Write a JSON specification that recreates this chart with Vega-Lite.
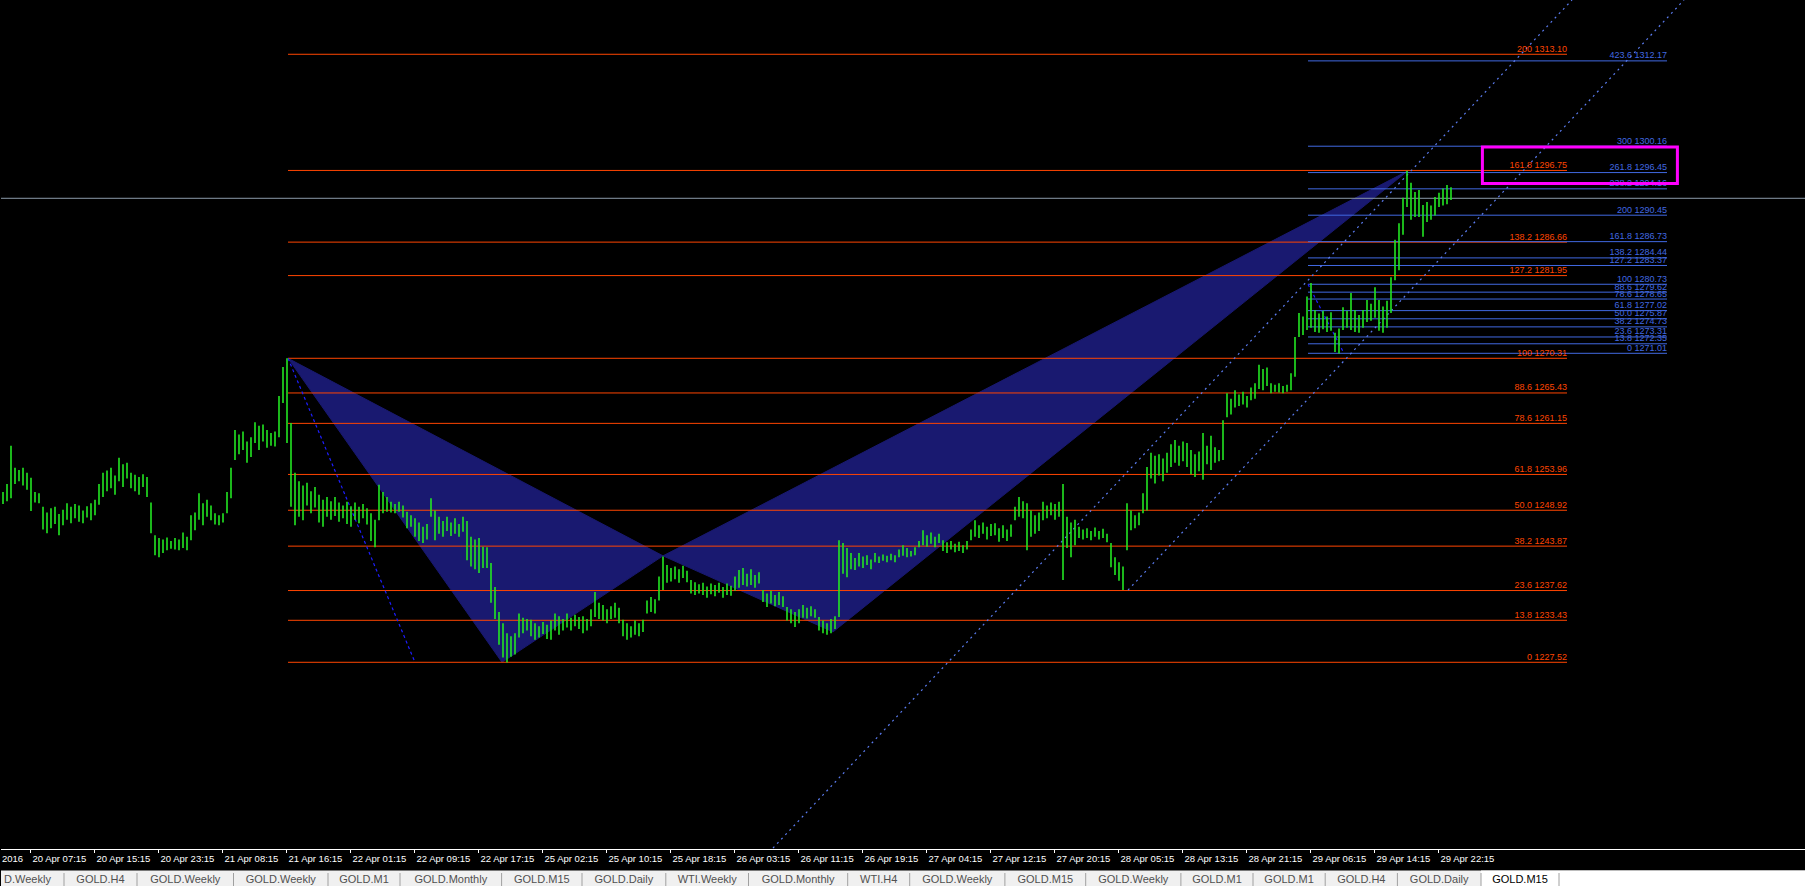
{
"$schema": "https://vega.github.io/schema/vega-lite/v6.json",
"background": "#000000",
"padding": 0,
"spacing": 0,
"bounds": "flush",
"config": {"view": {"stroke": null}, "axis": {"disable": true}, "concat": {"spacing": 0}},
"datasets": {
"bars": [
{"b":1,"h":1251.5,"l":1249.8},{"b":3,"h":1252.6,"l":1250.2},{"b":5,"h":1258.0,"l":1250.6},{"b":7,"h":1254.9,"l":1252.6},{"b":9,"h":1254.6,"l":1253.0},{"b":11,"h":1254.9,"l":1252.4},{"b":13,"h":1254.2,"l":1251.8},{"b":15,"h":1253.5,"l":1248.8},{"b":17,"h":1251.5,"l":1250.0},{"b":19,"h":1251.3,"l":1249.9},
{"b":21,"h":1249.4,"l":1246.2},{"b":23,"h":1248.6,"l":1245.7},{"b":25,"h":1249.2,"l":1246.4},{"b":27,"h":1249.4,"l":1247.0},{"b":29,"h":1248.4,"l":1245.4},{"b":31,"h":1249.0,"l":1246.8},{"b":33,"h":1249.9,"l":1247.6},{"b":35,"h":1249.4,"l":1247.1},{"b":37,"h":1249.8,"l":1247.8},{"b":39,"h":1249.6,"l":1247.3},
{"b":41,"h":1248.9,"l":1247.1},{"b":43,"h":1249.5,"l":1247.9},{"b":45,"h":1249.9,"l":1247.5},{"b":47,"h":1250.4,"l":1248.2},{"b":49,"h":1252.6,"l":1249.7},{"b":51,"h":1254.2,"l":1250.8},{"b":53,"h":1254.5,"l":1251.6},{"b":55,"h":1254.9,"l":1252.0},{"b":57,"h":1253.8,"l":1251.1},{"b":59,"h":1256.3,"l":1253.0},
{"b":61,"h":1255.4,"l":1252.2},{"b":63,"h":1255.6,"l":1253.4},{"b":65,"h":1254.2,"l":1252.0},{"b":67,"h":1253.9,"l":1251.6},{"b":69,"h":1253.6,"l":1251.1},{"b":71,"h":1254.0,"l":1252.2},{"b":73,"h":1253.6,"l":1250.8},{"b":75,"h":1250.0,"l":1245.7},{"b":77,"h":1245.4,"l":1242.6},{"b":79,"h":1245.0,"l":1242.3},
{"b":81,"h":1244.8,"l":1242.9},{"b":83,"h":1245.1,"l":1243.3},{"b":85,"h":1244.6,"l":1243.5},{"b":87,"h":1245.0,"l":1243.4},{"b":89,"h":1244.8,"l":1243.3},{"b":91,"h":1245.8,"l":1243.6},{"b":93,"h":1245.2,"l":1243.3},{"b":95,"h":1248.2,"l":1244.7},{"b":97,"h":1248.6,"l":1246.1},{"b":99,"h":1251.3,"l":1247.6},
{"b":101,"h":1249.9,"l":1246.8},{"b":103,"h":1250.4,"l":1248.0},{"b":105,"h":1249.6,"l":1247.5},{"b":107,"h":1248.5,"l":1246.9},{"b":109,"h":1248.2,"l":1246.8},{"b":111,"h":1248.5,"l":1247.2},{"b":113,"h":1251.5,"l":1248.5},{"b":115,"h":1254.9,"l":1250.6},{"b":117,"h":1260.2,"l":1256.0},{"b":119,"h":1259.6,"l":1256.8},
{"b":121,"h":1260.0,"l":1257.4},{"b":123,"h":1258.6,"l":1255.6},{"b":125,"h":1259.2,"l":1256.4},{"b":127,"h":1261.3,"l":1258.4},{"b":129,"h":1260.8,"l":1257.4},{"b":131,"h":1261.0,"l":1258.6},{"b":133,"h":1260.2,"l":1257.7},{"b":135,"h":1259.8,"l":1258.0},{"b":137,"h":1260.0,"l":1257.9},{"b":139,"h":1265.0,"l":1259.2},
{"b":141,"h":1269.1,"l":1264.0},{"b":143,"h":1270.3,"l":1258.4},{"b":145,"h":1261.2,"l":1249.4},{"b":147,"h":1254.2,"l":1246.8},{"b":149,"h":1253.0,"l":1248.0},{"b":151,"h":1252.4,"l":1247.5},{"b":153,"h":1252.8,"l":1249.6},{"b":155,"h":1251.6,"l":1248.5},{"b":157,"h":1252.2,"l":1249.3},{"b":159,"h":1251.1,"l":1247.2},
{"b":161,"h":1250.4,"l":1246.6},{"b":163,"h":1250.8,"l":1248.0},{"b":165,"h":1250.2,"l":1247.6},{"b":167,"h":1250.8,"l":1248.1},{"b":169,"h":1250.0,"l":1247.3},{"b":171,"h":1249.6,"l":1247.8},{"b":173,"h":1250.1,"l":1247.0},{"b":175,"h":1249.5,"l":1246.6},{"b":177,"h":1250.0,"l":1247.6},{"b":179,"h":1249.4,"l":1247.1},
{"b":181,"h":1249.8,"l":1247.8},{"b":183,"h":1249.2,"l":1246.9},{"b":185,"h":1248.5,"l":1244.6},{"b":187,"h":1247.6,"l":1243.7},{"b":189,"h":1252.5,"l":1247.5},{"b":191,"h":1251.5,"l":1248.5},{"b":193,"h":1250.8,"l":1248.7},{"b":195,"h":1250.1,"l":1248.6},{"b":197,"h":1249.8,"l":1248.5},{"b":199,"h":1250.1,"l":1248.7},
{"b":201,"h":1249.6,"l":1247.9},{"b":203,"h":1248.7,"l":1246.4},{"b":205,"h":1248.2,"l":1246.6},{"b":207,"h":1247.8,"l":1245.2},{"b":209,"h":1247.2,"l":1244.6},{"b":211,"h":1246.6,"l":1244.3},{"b":213,"h":1247.0,"l":1244.8},{"b":215,"h":1250.6,"l":1248.0},{"b":217,"h":1248.9,"l":1244.7},{"b":219,"h":1248.0,"l":1245.6},
{"b":221,"h":1247.4,"l":1245.2},{"b":223,"h":1248.0,"l":1246.0},{"b":225,"h":1247.2,"l":1245.3},{"b":227,"h":1247.8,"l":1245.6},{"b":229,"h":1247.0,"l":1245.2},{"b":231,"h":1248.0,"l":1245.9},{"b":233,"h":1247.4,"l":1241.9},{"b":235,"h":1245.2,"l":1241.0},{"b":237,"h":1244.8,"l":1240.6},{"b":239,"h":1245.0,"l":1240.1},
{"b":241,"h":1243.8,"l":1240.8},{"b":243,"h":1243.7,"l":1240.8},{"b":245,"h":1241.5,"l":1235.9},{"b":247,"h":1238.1,"l":1233.6},{"b":249,"h":1234.6,"l":1230.0},{"b":251,"h":1233.0,"l":1228.2},{"b":253,"h":1231.6,"l":1227.5},{"b":255,"h":1231.2,"l":1228.3},{"b":257,"h":1231.6,"l":1228.6},{"b":259,"h":1234.4,"l":1231.0},
{"b":261,"h":1233.8,"l":1231.6},{"b":263,"h":1233.6,"l":1232.0},{"b":265,"h":1233.5,"l":1231.2},{"b":267,"h":1233.0,"l":1230.7},{"b":269,"h":1232.6,"l":1231.0},{"b":271,"h":1233.2,"l":1231.5},{"b":273,"h":1232.8,"l":1230.8},{"b":275,"h":1233.4,"l":1230.7},{"b":277,"h":1234.4,"l":1232.0},{"b":279,"h":1234.0,"l":1231.4},
{"b":281,"h":1233.6,"l":1232.0},{"b":283,"h":1234.4,"l":1232.4},{"b":285,"h":1233.8,"l":1232.0},{"b":287,"h":1234.2,"l":1232.6},{"b":289,"h":1233.9,"l":1232.2},{"b":291,"h":1234.0,"l":1231.6},{"b":293,"h":1233.6,"l":1232.0},{"b":295,"h":1235.0,"l":1232.6},{"b":297,"h":1237.4,"l":1233.9},{"b":299,"h":1235.9,"l":1233.6},
{"b":301,"h":1235.6,"l":1233.4},{"b":303,"h":1235.0,"l":1233.0},{"b":305,"h":1235.4,"l":1233.6},{"b":307,"h":1235.9,"l":1233.8},{"b":309,"h":1235.2,"l":1233.0},{"b":311,"h":1233.5,"l":1231.2},{"b":313,"h":1233.0,"l":1230.7},{"b":315,"h":1232.6,"l":1231.0},{"b":317,"h":1233.4,"l":1231.4},{"b":319,"h":1233.0,"l":1231.2},
{"b":321,"h":1233.5,"l":1231.8},{"b":323,"h":1236.2,"l":1234.4},{"b":325,"h":1236.7,"l":1234.6},{"b":327,"h":1236.4,"l":1234.4},{"b":329,"h":1239.6,"l":1236.2},{"b":331,"h":1242.4,"l":1237.7},{"b":333,"h":1241.2,"l":1238.7},{"b":335,"h":1240.8,"l":1238.9},{"b":337,"h":1241.0,"l":1239.2},{"b":339,"h":1240.6,"l":1238.7},
{"b":341,"h":1241.1,"l":1239.4},{"b":343,"h":1240.4,"l":1238.8},{"b":345,"h":1239.1,"l":1237.2},{"b":347,"h":1238.8,"l":1237.0},{"b":349,"h":1238.5,"l":1237.2},{"b":351,"h":1238.7,"l":1237.0},{"b":353,"h":1238.2,"l":1236.6},{"b":355,"h":1238.6,"l":1237.1},{"b":357,"h":1238.4,"l":1236.8},{"b":359,"h":1238.7,"l":1237.3},
{"b":361,"h":1238.1,"l":1236.6},{"b":363,"h":1238.6,"l":1237.0},{"b":365,"h":1238.3,"l":1236.9},{"b":367,"h":1239.6,"l":1237.6},{"b":369,"h":1240.5,"l":1238.0},{"b":371,"h":1240.8,"l":1238.4},{"b":373,"h":1240.0,"l":1238.2},{"b":375,"h":1240.6,"l":1238.4},{"b":377,"h":1239.8,"l":1238.0},{"b":379,"h":1240.2,"l":1238.6},
{"b":381,"h":1237.7,"l":1236.0},{"b":383,"h":1237.2,"l":1235.3},{"b":385,"h":1237.6,"l":1235.8},{"b":387,"h":1237.0,"l":1235.4},{"b":389,"h":1237.4,"l":1235.6},{"b":391,"h":1236.8,"l":1235.3},{"b":393,"h":1235.3,"l":1233.4},{"b":395,"h":1235.0,"l":1233.0},{"b":397,"h":1234.6,"l":1232.5},{"b":399,"h":1235.0,"l":1233.0},
{"b":401,"h":1235.6,"l":1233.8},{"b":403,"h":1235.2,"l":1233.7},{"b":405,"h":1235.4,"l":1234.0},{"b":407,"h":1235.0,"l":1233.8},{"b":409,"h":1233.9,"l":1232.0},{"b":411,"h":1233.4,"l":1231.6},{"b":413,"h":1233.0,"l":1231.4},{"b":415,"h":1233.6,"l":1231.6},{"b":417,"h":1234.0,"l":1232.2},{"b":419,"h":1244.7,"l":1233.9},
{"b":421,"h":1244.3,"l":1240.0},{"b":423,"h":1243.6,"l":1239.5},{"b":425,"h":1242.9,"l":1240.6},{"b":427,"h":1242.2,"l":1240.5},{"b":429,"h":1242.9,"l":1241.0},{"b":431,"h":1242.4,"l":1240.8},{"b":433,"h":1242.6,"l":1241.2},{"b":435,"h":1242.0,"l":1240.6},{"b":437,"h":1242.9,"l":1241.6},{"b":439,"h":1242.4,"l":1241.5},
{"b":441,"h":1242.7,"l":1241.8},{"b":443,"h":1242.5,"l":1241.6},{"b":445,"h":1242.8,"l":1241.9},{"b":447,"h":1242.6,"l":1241.6},{"b":449,"h":1243.4,"l":1242.3},{"b":451,"h":1244.0,"l":1242.5},{"b":453,"h":1243.6,"l":1242.3},{"b":455,"h":1243.2,"l":1242.4},{"b":457,"h":1243.7,"l":1242.6},{"b":459,"h":1244.6,"l":1243.7},
{"b":461,"h":1246.1,"l":1244.0},{"b":463,"h":1245.4,"l":1243.8},{"b":465,"h":1245.8,"l":1244.2},{"b":467,"h":1245.2,"l":1243.7},{"b":469,"h":1245.6,"l":1244.3},{"b":471,"h":1244.7,"l":1243.2},{"b":473,"h":1244.4,"l":1242.9},{"b":475,"h":1244.6,"l":1243.4},{"b":477,"h":1244.2,"l":1243.0},{"b":479,"h":1244.5,"l":1243.2},
{"b":481,"h":1244.0,"l":1242.9},{"b":483,"h":1244.6,"l":1243.4},{"b":485,"h":1246.2,"l":1244.7},{"b":487,"h":1247.5,"l":1245.2},{"b":489,"h":1246.8,"l":1245.0},{"b":491,"h":1247.2,"l":1245.6},{"b":493,"h":1246.6,"l":1244.8},{"b":495,"h":1247.0,"l":1245.3},{"b":497,"h":1247.1,"l":1245.4},{"b":499,"h":1246.4,"l":1244.5},
{"b":501,"h":1246.8,"l":1245.0},{"b":503,"h":1246.2,"l":1244.6},{"b":505,"h":1246.9,"l":1245.2},{"b":507,"h":1249.4,"l":1247.5},{"b":509,"h":1250.8,"l":1248.0},{"b":511,"h":1250.2,"l":1247.8},{"b":513,"h":1249.9,"l":1243.3},{"b":515,"h":1248.9,"l":1245.2},{"b":517,"h":1248.2,"l":1245.6},{"b":519,"h":1248.6,"l":1246.0},
{"b":521,"h":1250.1,"l":1247.5},{"b":523,"h":1249.6,"l":1247.8},{"b":525,"h":1250.0,"l":1248.2},{"b":527,"h":1249.8,"l":1247.6},{"b":529,"h":1250.1,"l":1248.0},{"b":531,"h":1252.6,"l":1239.1},{"b":533,"h":1248.0,"l":1243.6},{"b":535,"h":1247.2,"l":1242.3},{"b":537,"h":1247.6,"l":1244.0},{"b":539,"h":1246.6,"l":1245.0},
{"b":541,"h":1246.2,"l":1244.8},{"b":543,"h":1246.4,"l":1245.0},{"b":545,"h":1246.0,"l":1244.7},{"b":547,"h":1246.5,"l":1245.2},{"b":549,"h":1246.0,"l":1244.8},{"b":551,"h":1246.3,"l":1245.0},{"b":553,"h":1245.6,"l":1244.4},{"b":555,"h":1244.3,"l":1240.9},{"b":557,"h":1242.3,"l":1239.8},{"b":559,"h":1241.6,"l":1239.0},
{"b":561,"h":1241.0,"l":1237.7},{"b":563,"h":1249.9,"l":1243.3},{"b":565,"h":1248.9,"l":1246.1},{"b":567,"h":1248.2,"l":1246.4},{"b":569,"h":1248.6,"l":1246.8},{"b":571,"h":1251.3,"l":1248.5},{"b":573,"h":1255.0,"l":1248.9},{"b":575,"h":1257.0,"l":1253.4},{"b":577,"h":1256.6,"l":1252.7},{"b":579,"h":1256.8,"l":1253.8},
{"b":581,"h":1256.2,"l":1253.0},{"b":583,"h":1257.0,"l":1254.2},{"b":585,"h":1258.2,"l":1255.0},{"b":587,"h":1258.8,"l":1255.6},{"b":589,"h":1258.0,"l":1255.2},{"b":591,"h":1258.6,"l":1255.8},{"b":593,"h":1258.4,"l":1255.0},{"b":595,"h":1257.4,"l":1254.0},{"b":597,"h":1256.8,"l":1253.6},{"b":599,"h":1257.2,"l":1254.4},
{"b":601,"h":1259.8,"l":1253.2},{"b":603,"h":1258.0,"l":1255.4},{"b":605,"h":1259.4,"l":1254.6},{"b":607,"h":1257.8,"l":1255.6},{"b":609,"h":1257.4,"l":1255.8},{"b":611,"h":1261.6,"l":1256.0},{"b":613,"h":1265.4,"l":1262.0},{"b":615,"h":1264.6,"l":1262.4},{"b":617,"h":1265.8,"l":1263.4},{"b":619,"h":1265.2,"l":1263.6},
{"b":621,"h":1265.6,"l":1263.8},{"b":623,"h":1265.0,"l":1263.4},{"b":625,"h":1266.2,"l":1264.4},{"b":627,"h":1266.8,"l":1264.6},{"b":629,"h":1269.4,"l":1266.0},{"b":631,"h":1268.8,"l":1265.8},{"b":633,"h":1269.0,"l":1266.4},{"b":635,"h":1266.8,"l":1265.4},{"b":637,"h":1266.6,"l":1265.6},{"b":639,"h":1266.8,"l":1265.5},
{"b":641,"h":1266.4,"l":1265.4},{"b":643,"h":1266.6,"l":1265.6},{"b":645,"h":1268.2,"l":1265.8},{"b":647,"h":1273.3,"l":1267.7},{"b":649,"h":1276.7,"l":1273.3},{"b":651,"h":1276.2,"l":1273.6},{"b":653,"h":1279.0,"l":1274.3},{"b":655,"h":1280.9,"l":1274.6},{"b":657,"h":1277.1,"l":1274.0},{"b":659,"h":1276.6,"l":1273.9},
{"b":661,"h":1277.0,"l":1274.4},{"b":663,"h":1276.2,"l":1274.0},{"b":665,"h":1276.8,"l":1274.2},{"b":667,"h":1273.9,"l":1271.2},{"b":669,"h":1274.5,"l":1271.0},{"b":671,"h":1277.5,"l":1274.3},{"b":673,"h":1277.0,"l":1274.6},{"b":675,"h":1279.5,"l":1274.3},{"b":677,"h":1277.1,"l":1274.0},{"b":679,"h":1276.4,"l":1273.9},
{"b":681,"h":1277.1,"l":1274.6},{"b":683,"h":1278.5,"l":1275.4},{"b":685,"h":1278.0,"l":1275.6},{"b":687,"h":1280.3,"l":1276.0},{"b":689,"h":1278.5,"l":1274.2},{"b":691,"h":1277.6,"l":1273.9},{"b":693,"h":1278.4,"l":1274.6},{"b":695,"h":1281.7,"l":1276.7},{"b":697,"h":1287.0,"l":1281.3},{"b":699,"h":1289.3,"l":1282.7},
{"b":701,"h":1292.9,"l":1287.7},{"b":703,"h":1296.7,"l":1291.6},{"b":705,"h":1295.0,"l":1289.8},{"b":707,"h":1293.7,"l":1290.2},{"b":709,"h":1294.0,"l":1290.2},{"b":711,"h":1291.9,"l":1287.4},{"b":713,"h":1292.3,"l":1289.5},{"b":715,"h":1291.8,"l":1289.8},{"b":717,"h":1293.0,"l":1290.4},{"b":719,"h":1293.6,"l":1291.6},
{"b":721,"h":1294.2,"l":1291.8},{"b":723,"h":1294.7,"l":1292.0},{"b":725,"h":1294.4,"l":1292.6}
],
"fibR": [
{"lv":"200 1313.10","p":1313.10,"b0":143.5,"b1":783},
{"lv":"161.8 1296.75","p":1296.75,"b0":143.5,"b1":783},
{"lv":"138.2 1286.66","p":1286.66,"b0":143.5,"b1":783},
{"lv":"127.2 1281.95","p":1281.95,"b0":143.5,"b1":783},
{"lv":"100 1270.31","p":1270.31,"b0":143.5,"b1":783},
{"lv":"88.6 1265.43","p":1265.43,"b0":143.5,"b1":783},
{"lv":"78.6 1261.15","p":1261.15,"b0":143.5,"b1":783},
{"lv":"61.8 1253.96","p":1253.96,"b0":143.5,"b1":783},
{"lv":"50.0 1248.92","p":1248.92,"b0":143.5,"b1":783},
{"lv":"38.2 1243.87","p":1243.87,"b0":143.5,"b1":783},
{"lv":"23.6 1237.62","p":1237.62,"b0":143.5,"b1":783},
{"lv":"13.8 1233.43","p":1233.43,"b0":143.5,"b1":783},
{"lv":"0 1227.52","p":1227.52,"b0":143.5,"b1":783}
],
"fibB": [
{"lv":"423.6 1312.17","p":1312.17,"b0":653.5,"b1":833},
{"lv":"300 1300.16","p":1300.16,"b0":653.5,"b1":833},
{"lv":"261.8 1296.45","p":1296.45,"b0":653.5,"b1":833},
{"lv":"238.2 1294.16","p":1294.16,"b0":653.5,"b1":833},
{"lv":"200 1290.45","p":1290.45,"b0":653.5,"b1":833},
{"lv":"161.8 1286.73","p":1286.73,"b0":653.5,"b1":833},
{"lv":"138.2 1284.44","p":1284.44,"b0":653.5,"b1":833},
{"lv":"127.2 1283.37","p":1283.37,"b0":653.5,"b1":833},
{"lv":"100 1280.73","p":1280.73,"b0":653.5,"b1":833},
{"lv":"88.6 1279.62","p":1279.62,"b0":653.5,"b1":833},
{"lv":"78.6 1278.65","p":1278.65,"b0":653.5,"b1":833},
{"lv":"61.8 1277.02","p":1277.02,"b0":653.5,"b1":833},
{"lv":"50.0 1275.87","p":1275.87,"b0":653.5,"b1":833},
{"lv":"38.2 1274.73","p":1274.73,"b0":653.5,"b1":833},
{"lv":"23.6 1273.31","p":1273.31,"b0":653.5,"b1":833},
{"lv":"13.8 1272.35","p":1272.35,"b0":653.5,"b1":833},
{"lv":"0 1271.01","p":1271.01,"b0":653.5,"b1":833}
],
"tri": [
{"t":1,"o":1,"b":143.5,"p":1270.31},{"t":1,"o":2,"b":250.5,"p":1227.52},{"t":1,"o":3,"b":331,"p":1242.5},
{"t":2,"o":1,"b":331,"p":1242.5},{"t":2,"o":2,"b":416,"p":1231.8},{"t":2,"o":3,"b":703.5,"p":1296.7}
],
"segs": [
{"k":"ch","b0":386,"p0":1201.38,"b1":785.5,"p1":1320.74},
{"k":"ch","b0":563.5,"p0":1237.69,"b1":841.5,"p1":1320.74},
{"k":"dk","b0":143.5,"p0":1270.31,"b1":207,"p1":1227.52},
{"k":"dk","b0":653.5,"p0":1280.73,"b1":671.5,"p1":1271.01}
],
"box": [{"b0":740.7,"b1":838.2,"p0":1294.91,"p1":1300.05}],
"bid": [{"p":1292.83}],
"ticks": [
{"b":14.75,"lab":"20 Apr 07:15"},{"b":46.75,"lab":"20 Apr 15:15"},{"b":78.75,"lab":"20 Apr 23:15"},{"b":110.75,"lab":"21 Apr 08:15"},{"b":142.75,"lab":"21 Apr 16:15"},{"b":174.75,"lab":"22 Apr 01:15"},{"b":206.75,"lab":"22 Apr 09:15"},{"b":238.75,"lab":"22 Apr 17:15"},{"b":270.75,"lab":"25 Apr 02:15"},{"b":302.75,"lab":"25 Apr 10:15"},{"b":334.75,"lab":"25 Apr 18:15"},{"b":366.75,"lab":"26 Apr 03:15"},{"b":398.75,"lab":"26 Apr 11:15"},{"b":430.75,"lab":"26 Apr 19:15"},{"b":462.75,"lab":"27 Apr 04:15"},{"b":494.75,"lab":"27 Apr 12:15"},{"b":526.75,"lab":"27 Apr 20:15"},{"b":558.75,"lab":"28 Apr 05:15"},{"b":590.75,"lab":"28 Apr 13:15"},{"b":622.75,"lab":"28 Apr 21:15"},{"b":654.75,"lab":"29 Apr 06:15"},{"b":686.75,"lab":"29 Apr 14:15"},{"b":718.75,"lab":"29 Apr 22:15"}
],
"edgeLab": [{"b":0,"lab":"2016"}],
"chrome": [
{"x0":0,"x1":1805,"kind":"bar"},
{"x0":1480,"x1":1558,"kind":"act"},
{"x0":1558,"x1":1805,"kind":"rest"}
],
"seps": [{"x":63},{"x":136},{"x":232.5},{"x":327},{"x":399},{"x":500.6},{"x":581},{"x":664.8},{"x":747.5},{"x":846.7},{"x":908.7},{"x":1003.9},{"x":1084.7},{"x":1179.9},{"x":1252},{"x":1324.2},{"x":1396.4},{"x":1480},{"x":1558}],
"tabs": [
{"c":26.5,"n":"D.Weekly","a":"n"},{"c":99.5,"n":"GOLD.H4","a":"n"},{"c":184.3,"n":"GOLD.Weekly","a":"n"},{"c":279.8,"n":"GOLD.Weekly","a":"n"},{"c":363,"n":"GOLD.M1","a":"n"},{"c":449.8,"n":"GOLD.Monthly","a":"n"},{"c":540.8,"n":"GOLD.M15","a":"n"},{"c":622.9,"n":"GOLD.Daily","a":"n"},{"c":706.2,"n":"WTI.Weekly","a":"n"},{"c":797.1,"n":"GOLD.Monthly","a":"n"},{"c":877.7,"n":"WTI.H4","a":"n"},{"c":956.3,"n":"GOLD.Weekly","a":"n"},{"c":1044.3,"n":"GOLD.M15","a":"n"},{"c":1132.3,"n":"GOLD.Weekly","a":"n"},{"c":1216,"n":"GOLD.M1","a":"n"},{"c":1288.1,"n":"GOLD.M1","a":"n"},{"c":1360.3,"n":"GOLD.H4","a":"n"},{"c":1438.2,"n":"GOLD.Daily","a":"n"},{"c":1519,"n":"GOLD.M15","a":"y"}
]
},
"vconcat": [
{
"width": 1805, "height": 849,
"layer": [
{"data":{"name":"tri"},"mark":{"type":"line","interpolate":"linear-closed","fill":"#191970","stroke":"#191970","strokeWidth":1,"clip":true},
 "encoding":{"x":{"field":"b","type":"quantitative","scale":{"domain":[0,902.5],"nice":false,"zero":false}},"y":{"field":"p","type":"quantitative","scale":{"domain":[1201.24,1320.74],"nice":false,"zero":false}},"detail":{"field":"t"},"order":{"field":"o","type":"quantitative"}}},
{"data":{"name":"bid"},"mark":{"type":"rule","color":"#8C9BAA","strokeWidth":1},
 "encoding":{"y":{"field":"p","type":"quantitative","scale":{"domain":[1201.24,1320.74],"nice":false,"zero":false}}}},
{"data":{"name":"fibR"},"mark":{"type":"rule","color":"#FF4500","strokeWidth":1},
 "encoding":{"x":{"field":"b0","type":"quantitative","scale":{"domain":[0,902.5],"nice":false,"zero":false}},"x2":{"field":"b1"},"y":{"field":"p","type":"quantitative","scale":{"domain":[1201.24,1320.74],"nice":false,"zero":false}}}},
{"data":{"name":"fibB"},"mark":{"type":"rule","color":"#4169E1","strokeWidth":1},
 "encoding":{"x":{"field":"b0","type":"quantitative","scale":{"domain":[0,902.5],"nice":false,"zero":false}},"x2":{"field":"b1"},"y":{"field":"p","type":"quantitative","scale":{"domain":[1201.24,1320.74],"nice":false,"zero":false}}}},
{"data":{"name":"segs"},"transform":[{"filter":"datum.k == 'ch'"}],"mark":{"type":"rule","color":"#5B7CF0","strokeWidth":1.2,"strokeDash":[2,4],"clip":true},
 "encoding":{"x":{"field":"b0","type":"quantitative","scale":{"domain":[0,902.5],"nice":false,"zero":false}},"x2":{"field":"b1"},"y":{"field":"p0","type":"quantitative","scale":{"domain":[1201.24,1320.74],"nice":false,"zero":false}},"y2":{"field":"p1"}}},
{"data":{"name":"segs"},"transform":[{"filter":"datum.k == 'dk'"}],"mark":{"type":"rule","color":"#1E1EFF","strokeWidth":1.2,"strokeDash":[3,3],"clip":true},
 "encoding":{"x":{"field":"b0","type":"quantitative","scale":{"domain":[0,902.5],"nice":false,"zero":false}},"x2":{"field":"b1"},"y":{"field":"p0","type":"quantitative","scale":{"domain":[1201.24,1320.74],"nice":false,"zero":false}},"y2":{"field":"p1"}}},
{"data":{"name":"bars"},"mark":{"type":"rule","color":"#22E622","strokeWidth":1.6},
 "encoding":{"x":{"field":"b","type":"quantitative","scale":{"domain":[0,902.5],"nice":false,"zero":false}},"y":{"field":"l","type":"quantitative","scale":{"domain":[1201.24,1320.74],"nice":false,"zero":false}},"y2":{"field":"h"}}},
{"data":{"name":"fibR"},"mark":{"type":"text","align":"right","baseline":"alphabetic","dy":-2.5,"font":"Liberation Sans","fontSize":9,"color":"#FF4500"},
 "encoding":{"x":{"field":"b1","type":"quantitative","scale":{"domain":[0,902.5],"nice":false,"zero":false}},"y":{"field":"p","type":"quantitative","scale":{"domain":[1201.24,1320.74],"nice":false,"zero":false}},"text":{"field":"lv"}}},
{"data":{"name":"fibB"},"mark":{"type":"text","align":"right","baseline":"alphabetic","dy":-2.5,"font":"Liberation Sans","fontSize":9,"color":"#4169E1"},
 "encoding":{"x":{"field":"b1","type":"quantitative","scale":{"domain":[0,902.5],"nice":false,"zero":false}},"y":{"field":"p","type":"quantitative","scale":{"domain":[1201.24,1320.74],"nice":false,"zero":false}},"text":{"field":"lv"}}},
{"data":{"name":"box"},"mark":{"type":"rect","filled":false,"stroke":"#FF00FF","strokeWidth":3},
 "encoding":{"x":{"field":"b0","type":"quantitative","scale":{"domain":[0,902.5],"nice":false,"zero":false}},"x2":{"field":"b1"},"y":{"field":"p0","type":"quantitative","scale":{"domain":[1201.24,1320.74],"nice":false,"zero":false}},"y2":{"field":"p1"}}}
]
},
{
"width": 1805, "height": 37,
"resolve": {"scale": {"x": "independent", "color": "independent"}},
"layer": [
{"data":{"name":"chrome"},"mark":{"type":"rect"},
 "encoding":{"x":{"field":"x0","type":"quantitative","scale":{"domain":[0,1805],"nice":false,"zero":false}},"x2":{"field":"x1"},
  "y":{"datum":21.5,"type":"quantitative","scale":{"domain":[0,37],"reverse":true,"nice":false,"zero":false}},"y2":{"datum":37},
  "color":{"field":"kind","type":"nominal","scale":{"domain":["bar","act","rest"],"range":["#F0F0F0","#FFFFFF","#FFFFFF"]},"legend":null}}},
{"data":{"name":"ticks"},"mark":{"type":"rule","color":"#FFFFFF","strokeWidth":1,"clip":true},
 "encoding":{"x":{"field":"b","type":"quantitative","scale":{"domain":[0,902.5],"nice":false,"zero":false}},
  "y":{"datum":0.5,"type":"quantitative","scale":{"domain":[0,37],"reverse":true,"nice":false,"zero":false}},"y2":{"datum":4}}},
{"data":{"values":[{"w":"axis"}]},"mark":{"type":"rule","color":"#FFFFFF","strokeWidth":1},
 "encoding":{"y":{"datum":0.5,"type":"quantitative","scale":{"domain":[0,37],"reverse":true,"nice":false,"zero":false}}}},
{"data":{"name":"ticks"},"mark":{"type":"text","align":"left","baseline":"middle","dx":2,"font":"Liberation Sans","fontSize":9.5,"color":"#FFFFFF"},
 "encoding":{"x":{"field":"b","type":"quantitative","scale":{"domain":[0,902.5],"nice":false,"zero":false}},
  "y":{"datum":9.5,"type":"quantitative","scale":{"domain":[0,37],"reverse":true,"nice":false,"zero":false}},"text":{"field":"lab"}}},
{"data":{"name":"edgeLab"},"mark":{"type":"text","align":"left","baseline":"middle","dx":1,"font":"Liberation Sans","fontSize":9.5,"color":"#FFFFFF"},
 "encoding":{"x":{"field":"b","type":"quantitative","scale":{"domain":[0,902.5],"nice":false,"zero":false}},
  "y":{"datum":9.5,"type":"quantitative","scale":{"domain":[0,37],"reverse":true,"nice":false,"zero":false}},"text":{"field":"lab"}}},
{"data":{"name":"seps"},"mark":{"type":"rule","color":"#A0A0A0","strokeWidth":1},
 "encoding":{"x":{"field":"x","type":"quantitative","scale":{"domain":[0,1805],"nice":false,"zero":false}},
  "y":{"datum":24,"type":"quantitative","scale":{"domain":[0,37],"reverse":true,"nice":false,"zero":false}},"y2":{"datum":37}}},
{"data":{"name":"tabs"},"mark":{"type":"text","align":"center","baseline":"middle","font":"Liberation Sans","fontSize":11},
 "encoding":{"x":{"field":"c","type":"quantitative","scale":{"domain":[0,1805],"nice":false,"zero":false}},
  "y":{"datum":31,"type":"quantitative","scale":{"domain":[0,37],"reverse":true,"nice":false,"zero":false}},"text":{"field":"n"},
  "color":{"field":"a","type":"nominal","scale":{"domain":["n","y"],"range":["#505050","#000000"]},"legend":null}}}
]
}
]
}
